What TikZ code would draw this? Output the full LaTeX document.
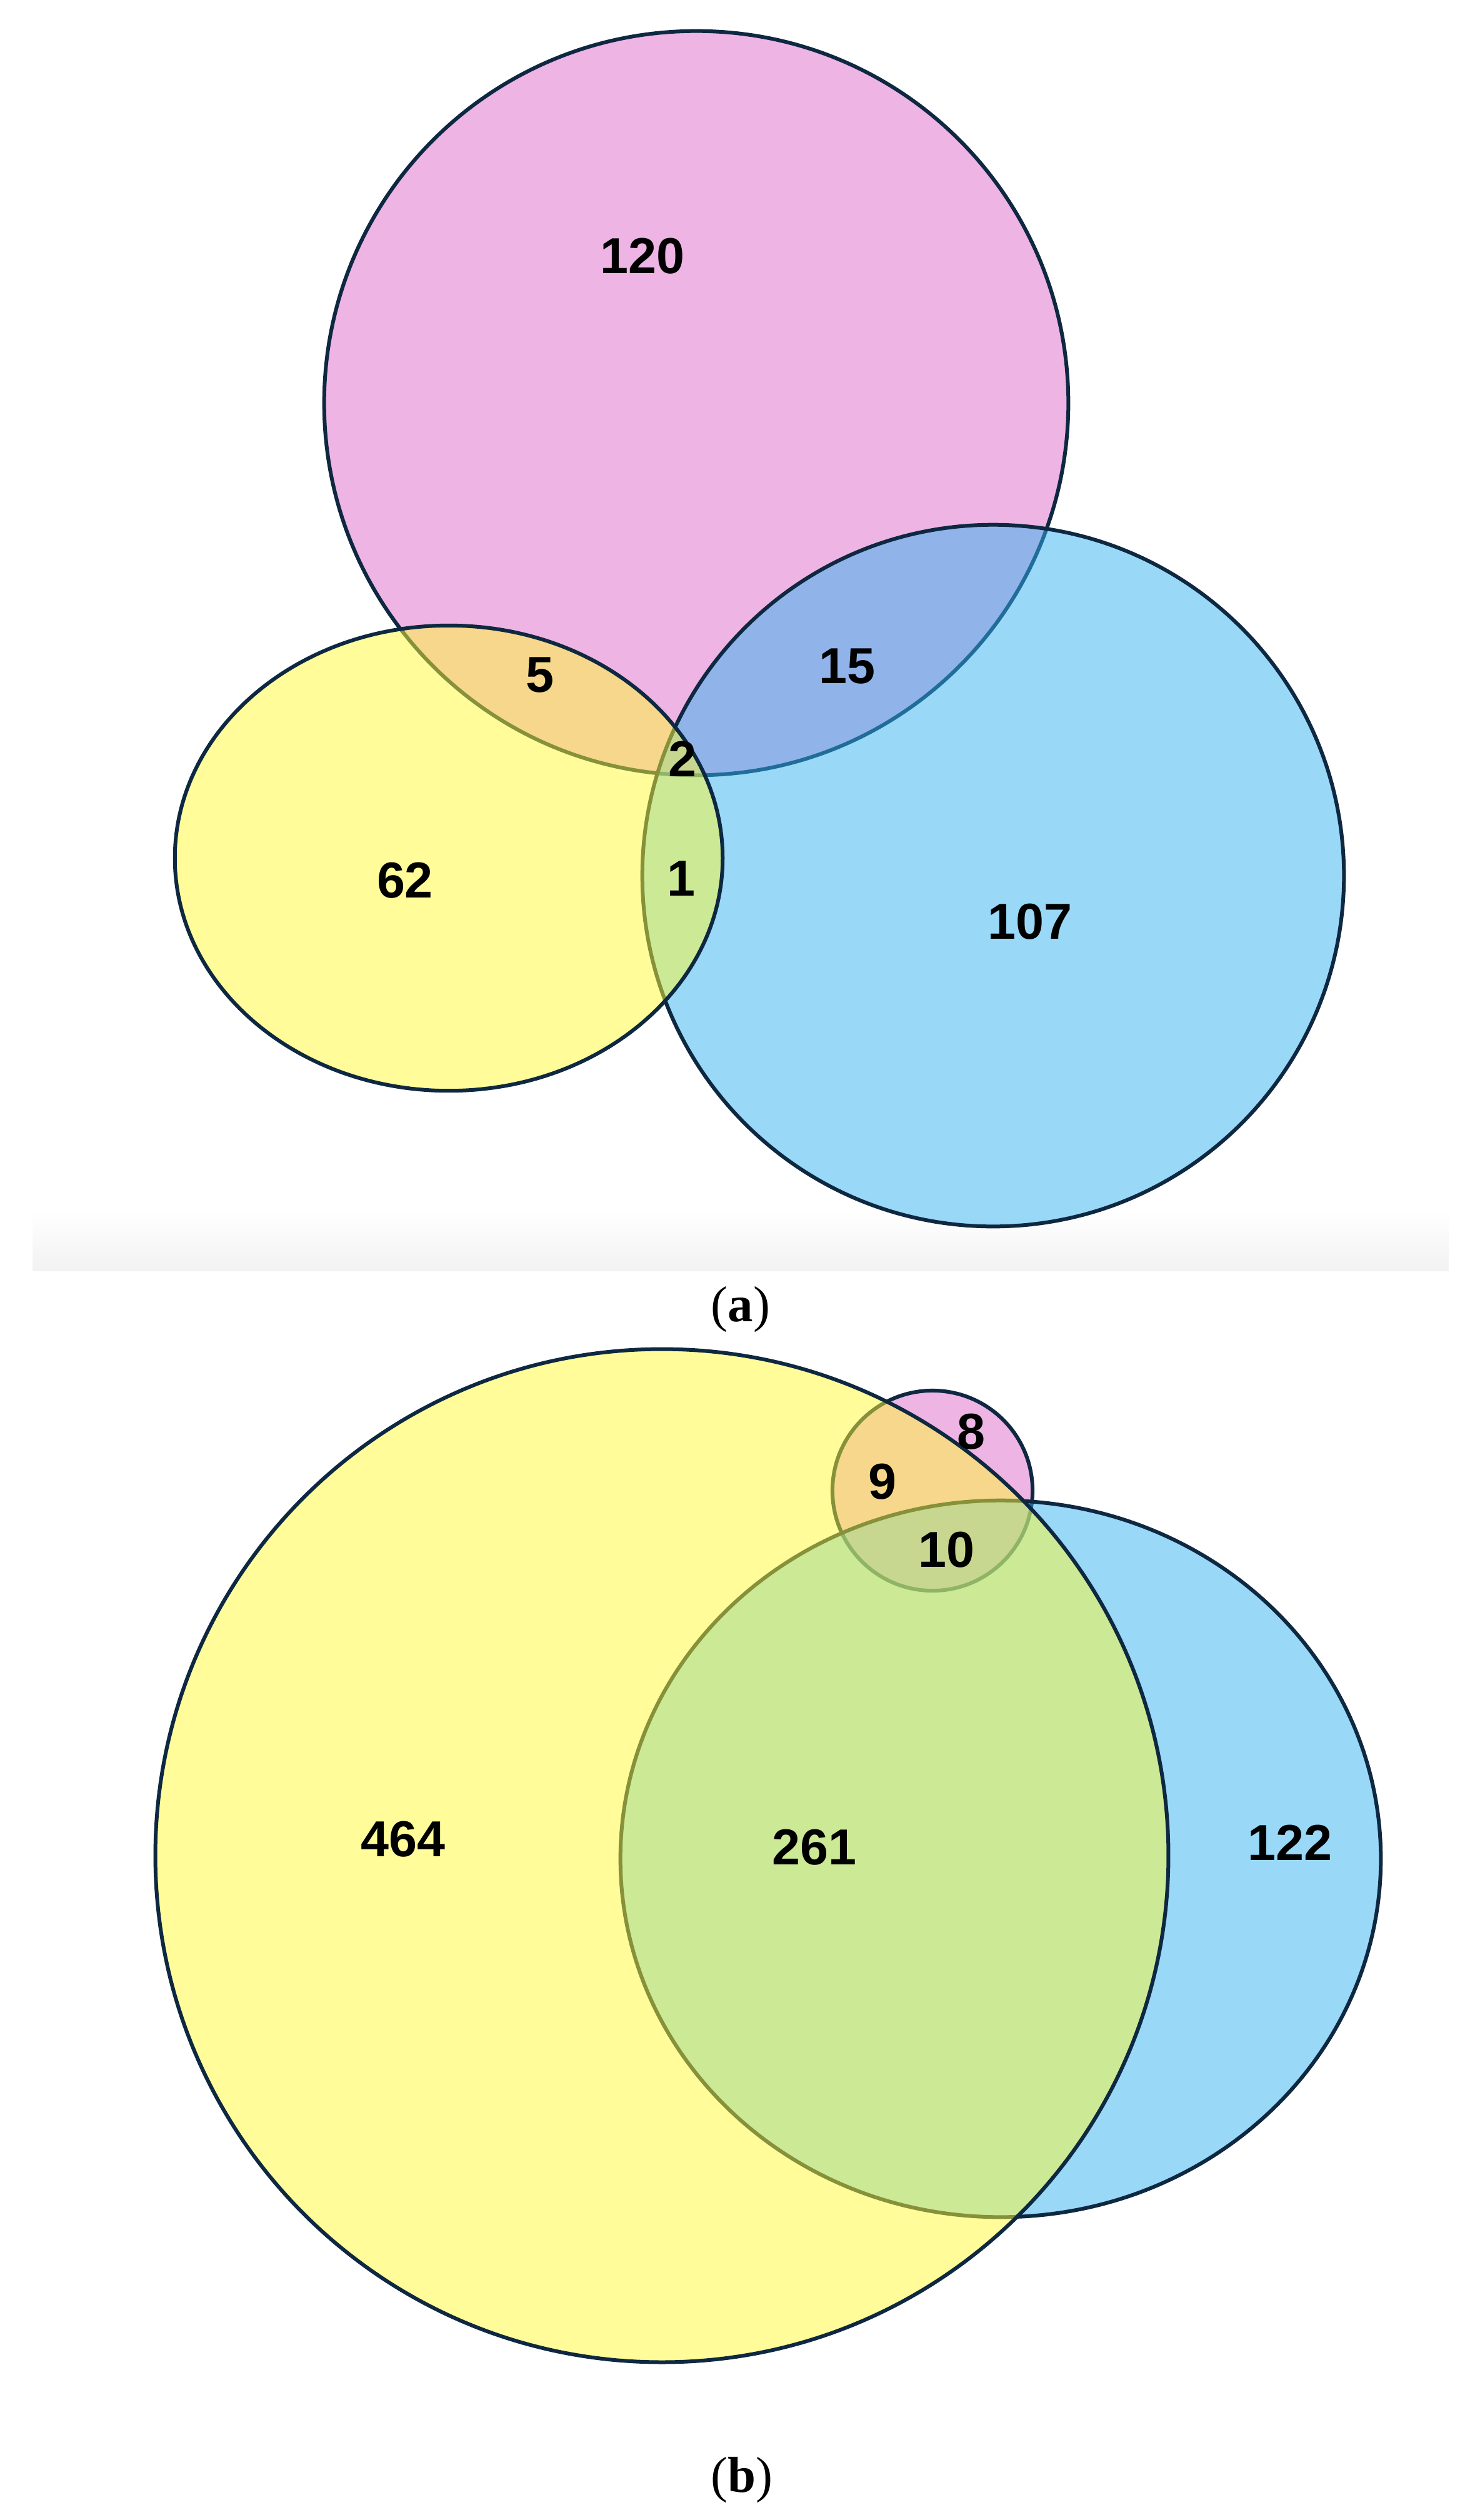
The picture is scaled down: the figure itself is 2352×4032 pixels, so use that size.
\documentclass[tikz,border=0pt]{standalone}
\usepackage{fontspec}
\setmainfont{Liberation Serif}
\setsansfont{Liberation Sans}
\usepackage{tikz}
\usetikzlibrary{positioning}
\usepackage{xcolor}
\definecolor{VennPink}{RGB}{221,107,203}
\definecolor{VennBlue}{RGB}{53,179,241}
\definecolor{VennYellow}{RGB}{255,251,53}
\definecolor{VennLine}{HTML}{0E2841}
\definecolor{BandGray}{RGB}{242,242,242}
\tikzset{
    % Set styles - half transparent fills, outline stays opaque
    pinkset/.style={
        fill=VennPink,
        fill opacity=0.5,
        draw=VennLine,
        draw opacity=1,
        line width=0.06cm
    },
    blueset/.style={
        fill=VennBlue,
        fill opacity=0.5,
        draw=VennLine,
        draw opacity=1,
        line width=0.06cm
    },
    yellowset/.style={
        fill=VennYellow,
        fill opacity=0.5,
        draw=VennLine,
        draw opacity=1,
        line width=0.06cm
    },
    % Label styles
    countlabel/.style={
        inner sep=0pt,
        text=black,
        font=\fontsize{23}{27}\selectfont\sffamily\bfseries
    },
    panellabel/.style={
        inner sep=0pt,
        text=black,
        font=\fontsize{23}{27}\selectfont
    }
}

\begin{document}
\begin{tikzpicture}[x=0.01cm, y=-0.01cm]
    \useasboundingbox (0,0) rectangle (2352,4032);
    \fill[white] (0,0) rectangle (2352,4032);

    % (a)
    \shade[top color=white, bottom color=BandGray] (52,1937) rectangle (2318,2033);
    \draw[pinkset] (1114,645) circle [radius=5.95cm];
    \draw[blueset] (1589,1401) circle [radius=5.61cm];
    \draw[yellowset] (718,1373) ellipse [x radius=4.38cm, y radius=3.72cm];

    \node[countlabel] (a120) at (1028,410) {120};
    \node[countlabel] (a5) at (864,1080) {5};
    \node[countlabel] (a15) at (1355,1066) {15};
    \node[countlabel] (a2) at (1092,1214) {2};
    \node[countlabel] (a1) at (1090,1406) {1};
    \node[countlabel] (a62) at (648,1409) {62};
    \node[countlabel] (a107) at (1648,1475) {107};
    \node[panellabel] (capa) at (1185,2095) {(\textbf{a})};

    % (b)
    \draw[pinkset] (1492,2385) circle [radius=1.6cm];
    \draw[blueset] (1601,2974) ellipse [x radius=6.08cm, y radius=5.73cm];
    \draw[yellowset] (1059,2969) circle [radius=8.1cm];

    \node[countlabel] (b8) at (1554,2291) {8};
    \node[countlabel] (b9) at (1412,2371) {9};
    \node[countlabel] (b10) at (1514,2480) {10};
    \node[countlabel] (b464) at (645,2943) {464};
    \node[countlabel] (b261) at (1303,2956) {261};
    \node[countlabel] (b122) at (2064,2948) {122};
    \node[panellabel] (capb) at (1187,3968) {(\textbf{b})};
\end{tikzpicture}
\end{document}
